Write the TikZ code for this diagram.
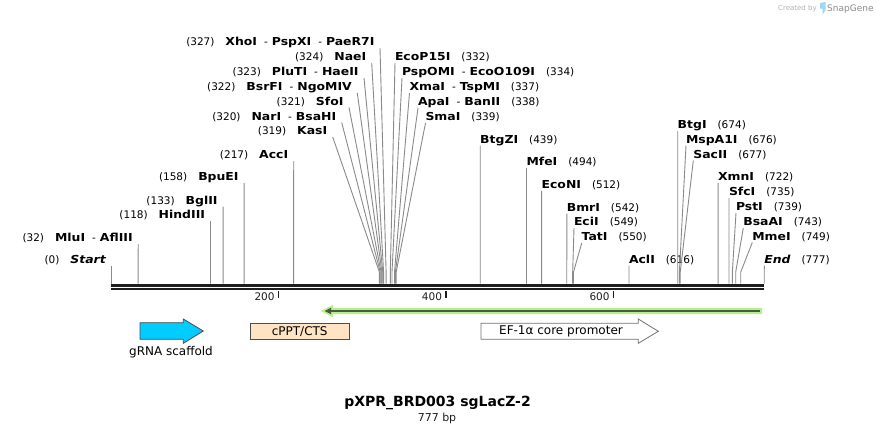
\documentclass[tikz,border=0pt]{standalone}
\usepackage{fontspec}
\setmainfont{DejaVu Sans}
\newfontfamily\wideb{DejaVu Sans}[FakeStretch=1.13]
\usetikzlibrary{calc}
\definecolor{sitegray}{HTML}{8A8A8A}
\definecolor{bbc}{HTML}{1E1E1E}
\definecolor{cyanf}{HTML}{00CCFF}
\definecolor{peach}{HTML}{FFE4C4}
\definecolor{lgreen}{HTML}{B6F08C}
\definecolor{dgreen}{HTML}{4A5A42}
\definecolor{sglogo}{HTML}{9ED8F2}
\newcommand\nb[1]{{\wideb\fontsize{11}{13}\selectfont\bfseries #1}}
\newcommand\nbi[1]{{\wideb\fontsize{11}{13}\selectfont\bfseries\itshape #1}}
\newcommand\nn[1]{{\fontsize{10.5}{13}\selectfont (#1)}}
\newcommand\dsh{\hspace{7pt}{\fontsize{10.5}{13}\selectfont -}\hspace{4pt}}
\newcommand\gapL{\hspace{11pt}}
\newcommand\gapR{\hspace{11pt}}
\newcommand\siteL[5]{%
  \coordinate (#1b) at ({111.3+0.8404*#2},283.5);
  \coordinate (#1k) at ({111.3+0.8404*#2},272);
  \coordinate (#1t) at (#3,#4);
  \draw[site] (#1b) -- (#1k) -- (#1t);
  \node[lbl,anchor=base east] (#1) at ([xshift=-5.5pt,yshift=2.5pt]#1t) {#5};
}
\newcommand\siteR[5]{%
  \coordinate (#1b) at ({111.3+0.8404*#2},283.5);
  \coordinate (#1k) at ({111.3+0.8404*#2},272);
  \coordinate (#1t) at (#3,#4);
  \draw[site] (#1b) -- (#1k) -- (#1t);
  \node[lbl,anchor=base west] (#1) at ([yshift=2.5pt]#1t) {#5};
}
\begin{document}
\begin{tikzpicture}[x=1pt,y=-1pt,
  site/.style={draw=sitegray,line width=0.9pt},
  lbl/.style={inner sep=0pt,outer sep=0pt,text=black},
  bbline/.style={draw=bbc},
  tickmark/.style={draw=bbc,line width=1.6pt},
  ticklbl/.style={inner sep=0pt,font=\fontsize{10.5}{12}\selectfont,text=bbc},
  featlbl/.style={inner sep=0pt,font=\fontsize{12}{14}\selectfont,text=black}]
\useasboundingbox (0,0) rectangle (876,434);
\fill[white] (0,0) rectangle (876,434);

% watermark
\node[inner sep=0pt,anchor=base west,text=black!30,font=\fontsize{7}{8}\selectfont] (wm1) at (778,10.5) {Created by};
\fill[sglogo] (820,3) -- (825.5,2) -- (825.5,10) -- (822.5,15) -- (822.5,9) -- (820,8.5) -- cycle;
\node[inner sep=0pt,anchor=base west,text=black!45,font=\fontsize{9}{10}\selectfont] (wm2) at (827,11.5) {SnapGene};

% left side sites
\siteL{sA}{0}{111.3}{265.5}{\nn{0}\gapL\nbi{Start}}
\siteL{sB}{32}{138.2}{244}{\nn{32}\gapL\nb{MluI}\dsh\nb{AflIII}}
\siteL{sC}{118}{210.5}{221}{\nn{118}\gapL\nb{HindIII}}
\siteL{sD}{133}{223.1}{206.5}{\nn{133}\gapL\nb{BglII}}
\siteL{sE}{158}{244.1}{183}{\nn{158}\gapL\nb{BpuEI}}
\siteL{sF}{217}{293.7}{161}{\nn{217}\gapL\nb{AccI}}
\siteL{sG}{319}{332.7}{137}{\nn{319}\gapL\nb{KasI}}
\siteL{sH}{320}{341.7}{122.5}{\nn{320}\gapL\nb{NarI}\dsh\nb{BsaHI}}
\siteL{sI}{321}{349}{107.5}{\nn{321}\gapL\nb{SfoI}}
\siteL{sJ}{322}{357.3}{93}{\nn{322}\gapL\nb{BsrFI}\dsh\nb{NgoMIV}}
\siteL{sK}{323}{364}{78}{\nn{323}\gapL\nb{PluTI}\dsh\nb{HaeII}}
\siteL{sL}{324}{371.7}{63}{\nn{324}\gapL\nb{NaeI}}
\siteL{sM}{327}{380}{48}{\nn{327}\gapL\nb{XhoI}\dsh\nb{PspXI}\dsh\nb{PaeR7I}}

% right side sites
\siteR{sN}{332}{395}{63}{\nb{EcoP15I}\gapR\nn{332}}
\siteR{sO}{334}{402}{78}{\nb{PspOMI}\dsh\nb{EcoO109I}\gapR\nn{334}}
\siteR{sP}{337}{409.5}{93}{\nb{XmaI}\dsh\nb{TspMI}\gapR\nn{337}}
\siteR{sQ}{338}{418}{108}{\nb{ApaI}\dsh\nb{BanII}\gapR\nn{338}}
\siteR{sR}{339}{425.5}{123}{\nb{SmaI}\gapR\nn{339}}
\siteR{sS}{439}{480.2}{145.5}{\nb{BtgZI}\gapR\nn{439}}
\siteR{sT}{494}{526.5}{168}{\nb{MfeI}\gapR\nn{494}}
\siteR{sU}{512}{541.6}{191}{\nb{EcoNI}\gapR\nn{512}}
\siteR{sV}{542}{566.8}{213.5}{\nb{BmrI}\gapR\nn{542}}
\siteR{sW}{549}{574}{228}{\nb{EciI}\gapR\nn{549}}
\siteR{sX}{550}{581.7}{243}{\nb{TatI}\gapR\nn{550}}
\siteR{sY}{616}{629}{265.5}{\nb{AclI}\gapR\nn{616}}
\siteR{sZ}{674}{677.7}{131}{\nb{BtgI}\gapR\nn{674}}
\siteR{sAA}{676}{686}{145.5}{\nb{MspA1I}\gapR\nn{676}}
\siteR{sAB}{677}{693.3}{160.5}{\nb{SacII}\gapR\nn{677}}
\siteR{sAC}{722}{718.1}{183}{\nb{XmnI}\gapR\nn{722}}
\siteR{sAD}{735}{729}{198}{\nb{SfcI}\gapR\nn{735}}
\siteR{sAE}{739}{736}{213}{\nb{PstI}\gapR\nn{739}}
\siteR{sAF}{743}{743.3}{228}{\nb{BsaAI}\gapR\nn{743}}
\siteR{sAG}{749}{752.3}{242.5}{\nb{MmeI}\gapR\nn{749}}
\siteR{sAH}{777}{764.3}{265.5}{\nbi{End}\gapR\nn{777}}

% backbone
\coordinate (bb1l) at (111.3,285.3);
\coordinate (bb1r) at (764.3,285.3);
\coordinate (bb2l) at (111.3,289.2);
\coordinate (bb2r) at (764.3,289.2);
\draw[bbline,line width=2.7pt] (bb1l) -- (bb1r);
\draw[bbline,line width=2.3pt] (bb2l) -- (bb2r);

% ticks
\foreach \tx/\tl in {278.3/200,445.7/400,613.3/600}{
  \draw[tickmark] (\tx,291.3) -- (\tx,297.5);
  \node[ticklbl,anchor=base east] (t\tl) at (\tx-3.5,300.5) {\tl};
}

% green primer-like arrow
\fill[lgreen] (320.5,311) -- (333,304.8) -- (333,308) -- (762,308) -- (762,314) -- (333,314) -- (333,317.2) -- cycle;
\draw[dgreen,line width=2pt] (329,311) -- (760,311);
\fill[dgreen] (324.5,311) -- (331,307.8) -- (331,314.2) -- cycle;

% gRNA scaffold
\draw[fill=cyanf,draw=black!70,line width=0.8pt] (140,322.7) -- (183.3,322.7) -- (183.3,319) -- (203.3,331) -- (183.3,343.3) -- (183.3,339.3) -- (140,339.3) -- cycle;
\node[featlbl,anchor=base] (grna) at (171,355.5) {gRNA scaffold};

% cPPT/CTS
\node[draw=black!70,fill=peach,line width=0.8pt,minimum width=99.3pt,minimum height=16pt,inner sep=0pt,font=\fontsize{12}{14}\selectfont] (cppt) at (299.7,331.3) {cPPT/CTS};

% EF-1a core promoter
\draw[fill=white,draw=black!55,line width=0.8pt] (481,323.3) -- (638.3,323.3) -- (638.3,319) -- (658.3,331.3) -- (638.3,343.3) -- (638.3,339.3) -- (481,339.3) -- cycle;
\node[featlbl] (ef1a) at (561,331.3) {EF-1α core promoter};

% title
\node[inner sep=0pt,font=\fontsize{14}{16}\selectfont\bfseries] (title) at (437.5,403.3) {pXPR\_BRD003 sgLacZ-2};
\node[inner sep=0pt,font=\fontsize{11}{13}\selectfont,text=bbc] (bp) at (437,418.3) {777 bp};
\end{tikzpicture}
\end{document}
